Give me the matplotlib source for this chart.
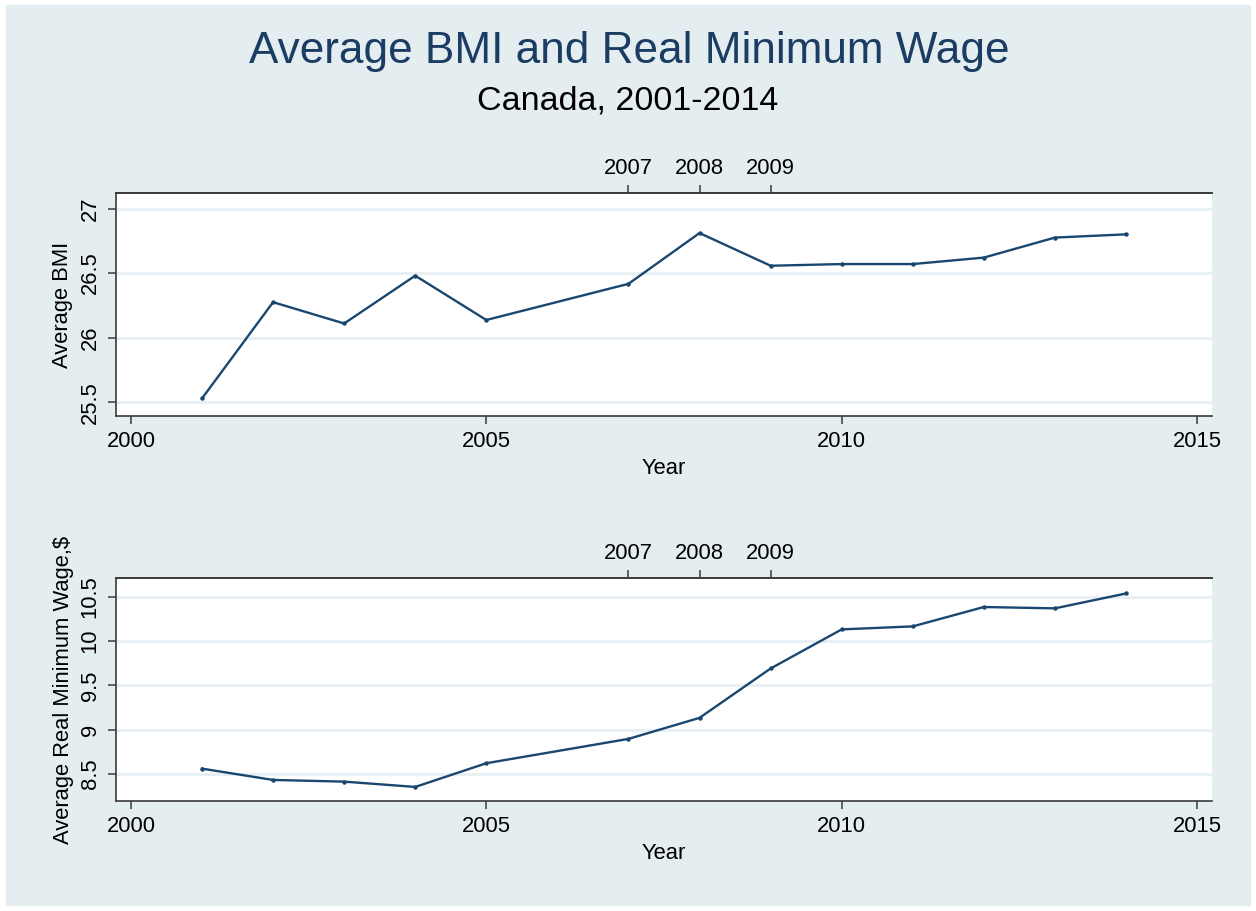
import matplotlib.pyplot as plt
from matplotlib.patches import Rectangle
from matplotlib.ticker import FuncFormatter

plt.rcParams['font.family'] = ['Liberation Sans', 'DejaVu Sans']

# data
years = [2001, 2002, 2003, 2004, 2005, 2007, 2008, 2009, 2010, 2011, 2012, 2013, 2014]
bmi = [25.53, 26.275, 26.11, 26.48, 26.137, 26.417, 26.81, 26.557, 26.57, 26.57, 26.62, 26.775, 26.80]
wage = [8.56, 8.432, 8.413, 8.353, 8.621, 8.896, 9.134, 9.692, 10.134, 10.168, 10.387, 10.372, 10.54]
x_ticks = [2000, 2005, 2010, 2015]
top_ticks = [2007, 2008, 2009]
bmi_ticks = [25.5, 26, 26.5, 27]
wage_ticks = [8.5, 9, 9.5, 10, 10.5]

bg = '#e4edf0'
navy = '#1a476f'
grid_c = '#e9f0f3'

W, H = 1256, 911
fig = plt.figure(figsize=(W / 100, H / 100), dpi=100)
fig.patch.set_facecolor('white')
fig.patches.append(Rectangle((6 / W, 6 / H), (W - 12) / W, (H - 11) / H,
                             transform=fig.transFigure, color=bg, zorder=-10))


def box(l, t, r, b):
    return [l / W, 1 - b / H, (r - l) / W, (b - t) / H]


# titles
fig.text(629 / W, 1 - 51 / H, 'Average BMI and Real Minimum Wage', ha='center', va='center',
         fontsize=31.8, color='#1c3d63')
fig.text(628 / W, 1 - 101 / H, 'Canada, 2001-2014', ha='center', va='center',
         fontsize=24.5, color='black')

fmt = FuncFormatter(lambda v, p: '%g' % v)


def panel(rect, y, yticks, ylim, ylabel, ylab_x):
    ax = fig.add_axes(box(*rect))
    ax.set_facecolor('white')
    ax.plot(years, y, color=navy, lw=1.7, marker='o', ms=2.2, zorder=3)
    ax.set_xlim(1999.79, 2015.21)
    ax.set_ylim(*ylim)
    ax.set_xticks(x_ticks)
    ax.set_yticks(yticks)
    ax.yaxis.set_major_formatter(fmt)
    ax.grid(axis='y', color=grid_c, lw=2.2)
    ax.set_axisbelow(True)
    ax.spines['right'].set_visible(False)
    for s in ['left', 'bottom', 'top']:
        ax.spines[s].set_color('#3a3a3a')
        ax.spines[s].set_linewidth(1.2)
    ax.tick_params(length=6, width=1.1, color='#3a3a3a', labelsize=15.8, pad=5)
    plt.setp(ax.get_yticklabels(), rotation=90, va='center')
    ax.set_xlabel('Year', fontsize=15.8, va='center')
    ax.xaxis.set_label_coords(0.5, -0.235)
    ax.set_ylabel(ylabel, fontsize=15.8, va='center')
    ax.yaxis.set_label_coords((ylab_x - rect[0]) / (rect[2] - rect[0]), 0.5)
    # secondary axis marking 2007-2009
    sec = ax.secondary_xaxis('top')
    sec.set_xticks(top_ticks)
    sec.spines['top'].set_color('#3a3a3a')
    sec.spines['top'].set_linewidth(1.2)
    sec.tick_params(length=6, width=1.1, color='#3a3a3a', labelsize=15.8, pad=4)
    return ax


panel((116, 193, 1212, 416), bmi, bmi_ticks, (25.394, 27.12), 'Average BMI', 63)
panel((116, 578, 1212, 801), wage, wage_ticks, (8.194, 10.715), r'Average Real Minimum Wage,\$', 64)

fig.savefig('out.png', dpi=100, facecolor=fig.get_facecolor())
